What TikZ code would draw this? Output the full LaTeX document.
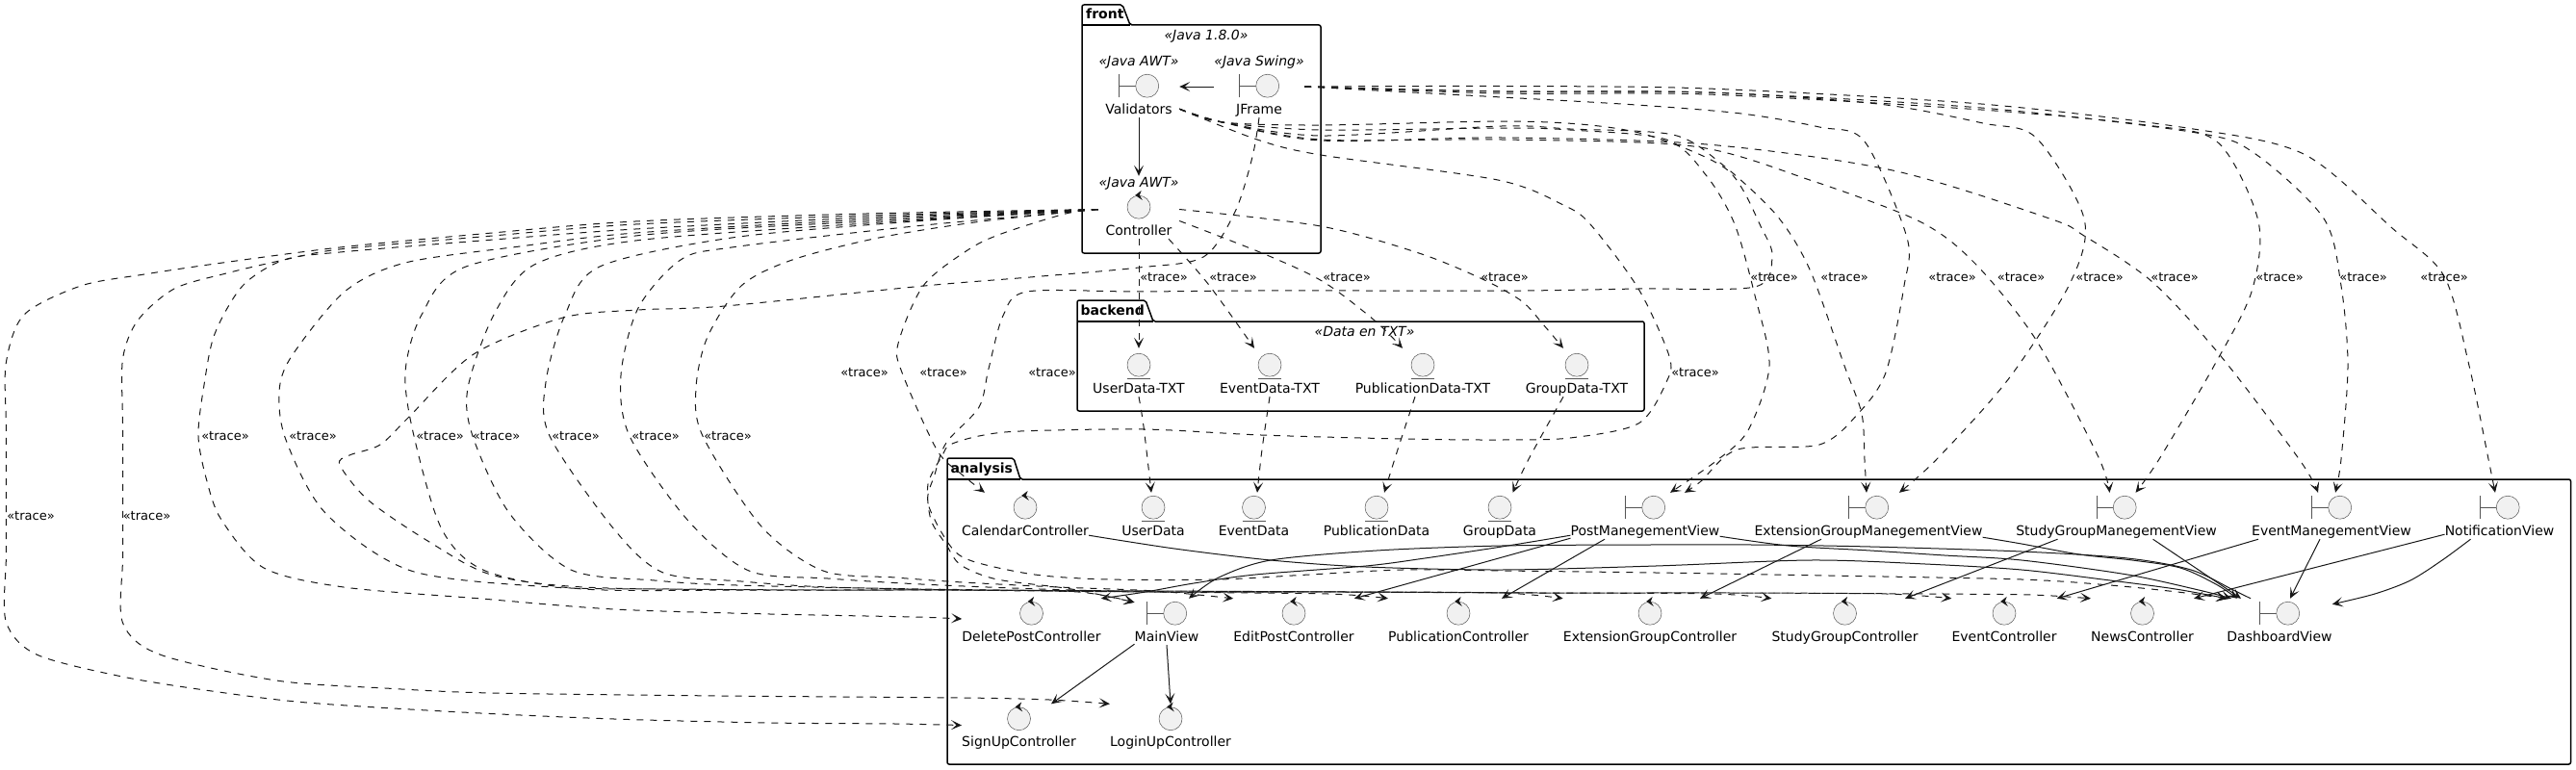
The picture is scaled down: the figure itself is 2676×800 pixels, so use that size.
\documentclass[tikz,border=0pt]{standalone}
\usepackage{fontspec}
\setmainfont{DejaVu Sans}
\usetikzlibrary{arrows.meta}

\definecolor{inkdark}{HTML}{181818}
\definecolor{iconedge}{HTML}{555555}
\definecolor{iconfill}{HTML}{F1F1F1}

\tikzset{
  actor/.style={font=\fontsize{14}{16}\selectfont, inner sep=0pt, text height=#1, text depth=4pt},
  actor/.default=44pt,
  stereo/.style={font=\fontsize{14}{16}\selectfont\itshape, inner sep=0pt},
  pkgtitle/.style={font=\fontsize{14}{16}\selectfont\bfseries, inner sep=0pt, anchor=base west},
  pkgline/.style={black, line width=1.5pt, line join=round, rounded corners=2pt},
  tracelabel/.style={font=\fontsize{13}{15}\selectfont, inner sep=0pt},
  iconcircle/.style={draw=iconedge, fill=iconfill, line width=0.5pt},
  iconstroke/.style={draw=iconedge, line width=0.5pt},
  opentip/.style={-{Stealth[length=11pt,width=10pt,inset=5.5pt]}},
  solidlink/.style={inkdark, line width=1pt, opentip},
  solidcurve/.style={solidlink, smooth, tension=0.5},
  tracedep/.style={inkdark, line width=1pt, dash pattern=on 7pt off 7pt, opentip, smooth, tension=0.5},
}

\newcommand{\boundaryicon}[1]{
  \draw[iconstroke] ([xshift=-20.5pt,yshift=21pt]#1.south) -- ([xshift=-20.5pt,yshift=45pt]#1.south);
  \draw[iconstroke] ([xshift=-20.5pt,yshift=33pt]#1.south) -- ([xshift=-3.3pt,yshift=33pt]#1.south);
  \draw[iconcircle] ([xshift=8.7pt,yshift=33pt]#1.south) circle[radius=12pt];
}
\newcommand{\entityicon}[1]{
  \draw[iconcircle] ([yshift=33pt]#1.south) circle[radius=12pt];
  \draw[iconstroke] ([xshift=-12pt,yshift=19pt]#1.south) -- ([xshift=12pt,yshift=19pt]#1.south);
}
\newcommand{\controlicon}[1]{
  \draw[iconcircle] ([yshift=33pt]#1.south) circle[radius=12pt];
  \fill[inkdark] ([xshift=-3.8pt,yshift=45.3pt]#1.south) -- ([xshift=2.7pt,yshift=50.3pt]#1.south)
    -- ([xshift=0.8pt,yshift=45.3pt]#1.south) -- ([xshift=3.8pt,yshift=40.3pt]#1.south) -- cycle;
}

\begin{document}
\begin{tikzpicture}[x=1pt,y=-1pt]
\useasboundingbox (0,0) rectangle (2676,800);

% packages
\draw[pkgline] (1124,26) -- (1124,5) -- (1166,5) -- (1174,26) -- (1372,26) -- (1372,263) -- (1124,263) -- cycle;
\draw[pkgline] (1124,26) -- (1174,26);
\node[pkgtitle] (frontTitle) at (1128,20) {front};
\node[stereo] (frontStereo) at (1253,38) {«Java 1.8.0»};

\draw[pkgline] (1119,334) -- (1119,312) -- (1190,312) -- (1198,334) -- (1708,334) -- (1708,427) -- (1119,427) -- cycle;
\draw[pkgline] (1119,334) -- (1198,334);
\node[pkgtitle] (backendTitle) at (1122.5,327) {backend};
\node[stereo] (backendStereo) at (1417.5,344) {«Data en TXT»};

\draw[pkgline] (984,498) -- (984,476) -- (1053,476) -- (1060,498) -- (2670.5,498) -- (2670.5,794) -- (984,794) -- cycle;
\draw[pkgline] (984,498) -- (1060,498);
\node[pkgtitle] (analysisTitle) at (987.5,491) {analysis};

% front
\node[stereo] (ValidatorsStereo) at (1183,65) {«Java AWT»};
\node[actor=60pt, minimum width=84pt] (Validators) at (1183,90) {Validators};
\boundaryicon{Validators}
\node[stereo] (JFrameStereo) at (1308,65) {«Java Swing»};
\node[actor=60pt, minimum width=94pt] (JFrame) at (1308,90) {JFrame};
\boundaryicon{JFrame}
\node[stereo] (ControllerStereo) at (1183,191) {«Java AWT»};
\node[actor=61pt, minimum width=84pt] (Controller) at (1183,215.5) {Controller};
\controlicon{Controller}

% backend
\node[actor=46pt] (UserDataTXT) at (1183,387) {UserData-TXT};
\entityicon{UserDataTXT}
\node[actor=46pt] (EventDataTXT) at (1319,387) {EventData-TXT};
\entityicon{EventDataTXT}
\node[actor=46pt] (PublicationDataTXT) at (1478,387) {PublicationData-TXT};
\entityicon{PublicationDataTXT}
\node[actor=46pt] (GroupDataTXT) at (1638,387) {GroupData-TXT};
\entityicon{GroupDataTXT}

% analysis, first row
\node[actor] (CalendarController) at (1065,536) {CalendarController};
\controlicon{CalendarController}
\node[actor] (UserData) at (1198,536) {UserData};
\entityicon{UserData}
\node[actor] (EventData) at (1302.5,536) {EventData};
\entityicon{EventData}
\node[actor] (PublicationData) at (1430,536) {PublicationData};
\entityicon{PublicationData}
\node[actor] (GroupData) at (1558,536) {GroupData};
\entityicon{GroupData}
\node[actor] (PostManegementView) at (1709,536) {PostManegementView};
\boundaryicon{PostManegementView}
\node[actor] (ExtensionGroupManegementView) at (1941,536) {ExtensionGroupManegementView};
\boundaryicon{ExtensionGroupManegementView}
\node[actor] (StudyGroupManegementView) at (2198.5,536) {StudyGroupManegementView};
\boundaryicon{StudyGroupManegementView}
\node[actor] (EventManegementView) at (2422,536) {EventManegementView};
\boundaryicon{EventManegementView}
\node[actor] (NotificationView) at (2596.5,536) {NotificationView};
\boundaryicon{NotificationView}

% analysis, second row
\node[actor] (DeletePostController) at (1071.5,646) {DeletePostController};
\controlicon{DeletePostController}
\node[actor] (MainView) at (1212,646) {MainView};
\boundaryicon{MainView}
\node[actor] (EditPostController) at (1344,646) {EditPostController};
\controlicon{EditPostController}
\node[actor] (PublicationController) at (1515,646) {PublicationController};
\controlicon{PublicationController}
\node[actor] (ExtensionGroupController) at (1714,646) {ExtensionGroupController};
\controlicon{ExtensionGroupController}
\node[actor] (StudyGroupController) at (1916.5,646) {StudyGroupController};
\controlicon{StudyGroupController}
\node[actor] (EventController) at (2082,646) {EventController};
\controlicon{EventController}
\node[actor] (NewsController) at (2225.5,646) {NewsController};
\controlicon{NewsController}
\node[actor] (DashboardView) at (2368,646) {DashboardView};
\boundaryicon{DashboardView}

% analysis, third row
\node[actor] (SignUpController) at (1058.5,755.5) {SignUpController};
\controlicon{SignUpController}
\node[actor] (LoginUpController) at (1216,755.5) {LoginUpController};
\controlicon{LoginUpController}

\coordinate (ControllerOut) at ([yshift=-2pt]Controller.west);
\coordinate (ControllerRight) at ([yshift=-2pt]Controller.east);
\coordinate (ValidatorsOut) at ([yshift=9pt]Validators.south east);

% solid links
\draw[solidlink] (JFrame.west) -- (Validators.east);
\draw[solidlink] (Validators.south) -- (Controller.north);
\draw[solidlink] ([yshift=1pt]MainView.south west) -- ([xshift=33.5pt]SignUpController.north);
\draw[solidlink] (MainView.south) -- (LoginUpController.north);
\draw[solidlink] ([yshift=1pt]PostManegementView.south west) -- (EditPostController.north east);
\draw[solidlink] ([xshift=-42pt]PostManegementView.south) -- ([xshift=45pt]PublicationController.north);
\draw[solidlink] ([xshift=-49pt]ExtensionGroupManegementView.south) -- ([xshift=52pt]ExtensionGroupController.north);
\draw[solidlink] ([xshift=-61pt]StudyGroupManegementView.south) -- ([xshift=62.5pt]StudyGroupController.north);
\draw[solidlink] ([xshift=38pt]StudyGroupManegementView.south) -- ([xshift=-40pt]DashboardView.north);
\draw[solidlink] ([xshift=-76pt]EventManegementView.south) -- (EventController.north east);
\draw[solidlink] ([xshift=-12pt]EventManegementView.south) -- ([xshift=11pt]DashboardView.north);
\draw[solidlink] ([yshift=5pt]NotificationView.south west) -- (NewsController.north east);
\draw[solidcurve] plot coordinates {([xshift=-30pt]NotificationView.south) (2537,582) (2504,603) (2467,617) ([yshift=-6pt]DashboardView.north east)};
\draw[solidcurve] plot coordinates {([yshift=4pt]CalendarController.south east) (1220,570) (1320,582) (1419,589) (1560,592) (1720,588) (1881,582) (2000,586) (2100,592) (2192,603) (2260,612) (DashboardView.north west)};
\draw[solidcurve] plot coordinates {([xshift=-30pt]DashboardView.north) (2320,613) (2276,592) (2210,580) (2100,573) (1943,568) (1820,566) (1713,566) (1560,567) (1430,572) (1320,582) (1266,600) ([xshift=23pt]MainView.north)};
\draw[solidcurve] plot coordinates {([yshift=4pt]PostManegementView.south west) (1560,568) (1480,580) (1419,588) (1304,597) (1240,606) (1190,615) (DeletePostController.north east)};
\draw[solidcurve] plot coordinates {([yshift=3pt]PostManegementView.south east) (1858,567) (1943,572) (2020,577) (2100,582) (2210,597) (2284,613) ([xshift=-50pt]DashboardView.north)};
\draw[solidcurve] plot coordinates {([yshift=2pt]ExtensionGroupManegementView.south east) (2100,565) (2160,576) (2215,582) (2265,590) (2302,607) ([xshift=-44pt]DashboardView.north)};

% backend to analysis
\draw[tracedep] plot coordinates {(UserDataTXT.south) (1188,443) ([xshift=-2pt]UserData.north)};
\draw[tracedep] plot coordinates {(EventDataTXT.south) (1311,467) ([xshift=3.5pt]EventData.north)};
\draw[tracedep] plot coordinates {([xshift=-8pt]PublicationDataTXT.south) (1452,467) ([xshift=8pt]PublicationData.north)};
\draw[tracedep] plot coordinates {([xshift=-14pt]GroupDataTXT.south) (1588,477) ([xshift=13.5pt]GroupData.north)};

% Controller to backend
\draw[tracedep] (Controller.south) -- (UserDataTXT.north);
\draw[tracedep] plot coordinates {([xshift=31pt]Controller.south) (1255,295) ([xshift=-16pt]EventDataTXT.north)};
\draw[tracedep] plot coordinates {([yshift=-14pt]Controller.east) (1316,265) (1375,293) (1428,333) ([xshift=-21pt]PublicationDataTXT.north)};
\draw[tracedep] plot coordinates {(ControllerRight) (1372,235) (1474,263) (1540,290) (1581,313) (1603,337) ([xshift=-14pt]GroupDataTXT.north)};

% Controller to analysis
\draw[tracedep] plot coordinates {(ControllerOut) (900,222) (660,230) (500,243) (353,257) (231,273) (150,285) (84,297) (25,327) (6.3,377) (6.3,440) (6.3,510) (6.3,580) (6.3,646) (38,680) (127,703) (220,718) (319,730) (480,740) (638,747) (800,751) (930,752) ([yshift=2pt]SignUpController.west)};
\draw[tracedep] plot coordinates {(ControllerOut) (900,224) (660,233) (500,246) (353,259) (295,270) (235,284) (181,300) (143,333) (127.5,373) (127.5,440) (127.5,510) (127.5,580) (127.5,647) (166,680) (287,707) (400,715) (510,720) (750,723) (1000,725) (1090,727) (LoginUpController.north west)};
\draw[tracedep] plot coordinates {(ControllerOut) (900,226) (660,238) (500,250) (353,262) (295,270) (252,297) (223,347) (212,400) (206,453) (215,500) (230,540) (274,590) (357,610) (500,622) (638,633) (800,638) (950,641) ([yshift=3pt]DeletePostController.west)};
\draw[tracedep] plot coordinates {(ControllerOut) (900,228) (660,242) (540,256) (421,273) (358,303) (303,370) (290,407) (297,457) (338,533) (427,593) (574,610) (700,612) (850,613) (1000,613) (1200,614) (1400,615) (1600,616) (1800,616) (2000,617) (2110,618) (NewsController.north west)};
\draw[tracedep] plot coordinates {(ControllerOut) (900,230) (660,245) (484,277) (438,327) (421,387) (430,453) (459,550) (504,593) (606,612) (780,613) (957,613) (1200,614) (1400,615) (1600,616) (1800,616) (1960,617) (EventController.north west)};
\draw[tracedep] plot coordinates {(ControllerOut) (900,232) (660,250) (555,275) (513,327) (486,403) (491,453) (529,533) (593,592) (680,603) (765,608) (1000,613) (1200,615) (1400,615) (1600,616) (1780,617) (StudyGroupController.north west)};
\draw[tracedep] plot coordinates {(ControllerOut) (950,230) (760,247) (623,277) (587,327) (567,397) (571,453) (638,550) (689,595) (770,604) (861,610) (1030,613) (1200,615) (1400,615) (1560,616) (ExtensionGroupController.north west)};
\draw[tracedep] plot coordinates {(ControllerOut) (950,235) (760,257) (707,270) (663,320) (645,390) (654,453) (714,540) (778,593) (860,601) (957,607) (1080,612) (1200,615) (1380,617) (PublicationController.north west)};
\draw[tracedep] plot coordinates {(ControllerOut) (1020,230) (913,247) (823,270) (770,297) (735,350) (723,403) (730,453) (791,547) (855,593) (930,600) (1000,605) (1100,610) (1200,614) (EditPostController.north west)};
\draw[tracedep] plot coordinates {(ControllerOut) (1107,222) (1040,243) (1005,260) (959,297) (933,357) (937,387) (973,467) (998,492) ([xshift=-42pt]CalendarController.north)};

% JFrame
\draw[tracedep] plot coordinates {(JFrame.east) (1560,89.5) (1773,92) (2058,108) (2272,133) (2393,160) (2485,237) (2539,287) (2565,380) (2585,477) ([xshift=-4.5pt]NotificationView.north)};
\draw[tracedep] plot coordinates {(JFrame.east) (1560,95) (1773,96) (2058,112) (2282,138) (2343,160) (2414,227) (2432,297) (2439,380) (2432,477) ([xshift=4pt]EventManegementView.north)};
\draw[tracedep] plot coordinates {(JFrame.east) (1560,97) (1773,98) (2058,114) (2230,130) (2304,148) (2346,230) (2339,303) (2300,380) (2243,477) ([xshift=20pt]StudyGroupManegementView.north)};
\draw[tracedep] plot coordinates {(JFrame.east) (1560,95) (1773,96) (1951,108) (2060,128) (2115,143) (2165,227) (2151,293) (2087,393) (2012,477) ([xshift=32pt]ExtensionGroupManegementView.north)};
\draw[tracedep] plot coordinates {(JFrame.east) (1560,101) (1700,109) (1809,118) (1890,132) (1937,147) (1981,247) (1978,297) (1959,387) (1930,430) (1890,462) (1805,467) (1767,500) ([xshift=41pt]PostManegementView.north)};
\draw[tracedep] plot coordinates {(JFrame.south) (1301,163) (1283,220) (1250,267) (1183,278) (1070,288) (960,297) (753,318) (663,322) (585,330) (492,368) (425,433) (395,462) (363,473) (353,483) (383,520) (446,563) (510,597) (606,610) (797,613) (1000,613) (1120,615) ([yshift=-4pt]MainView.north west)};

% Validators
\draw[tracedep] plot coordinates {(ValidatorsOut) (1270,127) (1372,135) (1560,133) (1631,135) (1731,145) (1773,183) (1802,233) (1823,307) (1838,380) (1816,447) (1784,478) ([xshift=26pt]PostManegementView.north)};
\draw[tracedep] plot coordinates {(ValidatorsOut) (1270,127) (1372,141) (1560,131) (1631,134) (1738,140) (1788,170) (1845,223) (1880,280) (1916,380) (1934,430) (1937,478) ([xshift=-2pt]ExtensionGroupManegementView.north)};
\draw[tracedep] plot coordinates {(ValidatorsOut) (1270,127) (1372,145) (1560,145) (1759,152) (1880,187) (1994,230) (2051,273) (2115,353) (2179,473) ([xshift=-7pt]StudyGroupManegementView.north)};
\draw[tracedep] plot coordinates {(ValidatorsOut) (1270,127) (1372,146) (1560,143) (1773,150) (1966,177) (2129,227) (2165,245) (2236,293) (2307,370) (2389,478) ([xshift=-14pt]EventManegementView.north)};
\draw[tracedep] plot coordinates {(ValidatorsOut) (1270,127) (1372,130) (1560,126) (1652,130) (1717,142) (1795,177) (1830,237) (1841,267) (1823,298) (1702,300) (1580,302) (1430,302) (1300,302) (1180,303) (1067,303) (1042,328) (1027,383) (1017,423) (983,460) (971,493) (964,523) (987,567) (1010,583) (1075,597) (1151,602) (1266,602) (1360,597) (1457,592) (1560,593) (1720,595) (1900,598) (2100,602) (2192,608) (2262,615) (DashboardView.north west)};
\draw[tracedep] plot coordinates {(ValidatorsOut) (1306,145) (1372,161) (1556,187) (1624,213) (1652,233) (1702,300) (1734,370) (1731,397) (1702,440) (1631,455) (1560,457) (1457,456) (1310,452) (1188,446) (1060,448) (1017,453) (987,462) (979,473) (964,503) (967,540) (983,566) (998,587) (1036,602) (1113,612) ([yshift=-4pt]MainView.north west)};

% trace labels
\foreach \i/\xp/\yp in {1/32/536, 2/152.5/536, 3/234/453, 4/325/453, 5/457/453, 6/515.5/453, 7/598/453, 8/681/453, 9/756/453,
  10/898/387, 11/980/387, 12/1093/387, 13/1209/288, 14/1281/288, 15/1399/288, 16/1563/288, 17/1761/387.5,
  18/1843/288, 19/1916/288, 20/2028/288, 21/2099.5/288, 22/2181/288, 23/2259/288, 24/2368/288, 25/2455/288, 26/2539/288}
  \node[tracelabel] (trace\i) at (\xp,\yp) {«trace»};

\end{tikzpicture}
\end{document}
